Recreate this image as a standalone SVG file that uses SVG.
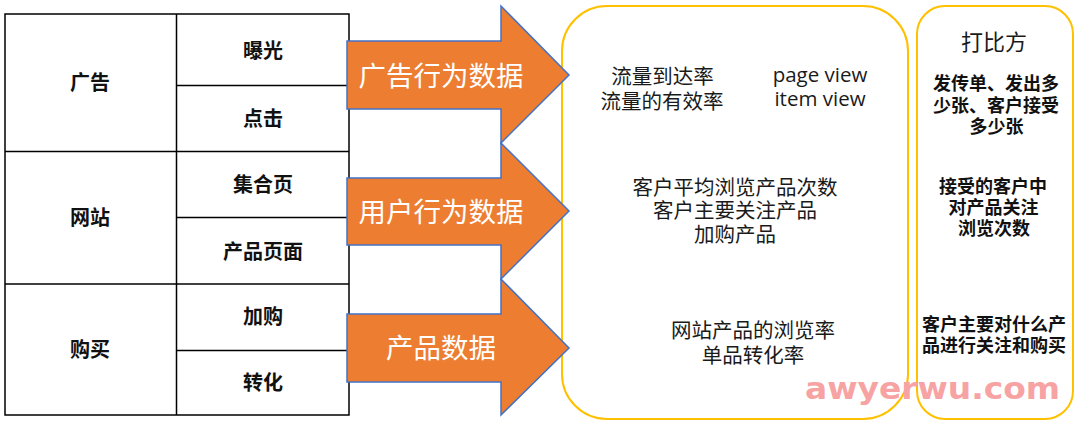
<svg xmlns="http://www.w3.org/2000/svg" width="1080" height="421" viewBox="0 0 1080 421">
<style>
.cell{fill:none;stroke:#000;stroke-width:1.5}
.tb{font-family:"Noto Sans CJK SC","Noto Sans",sans-serif;font-weight:700;font-size:20px;fill:#111;text-anchor:middle}
.arr{fill:#ED7D31;stroke:#4472C4;stroke-width:1.5;stroke-linejoin:miter}
.at{font-family:"Noto Sans CJK SC","Noto Sans",sans-serif;font-size:27.5px;fill:#fff;text-anchor:middle}
.box{fill:none;stroke:#FFC000;stroke-width:2}
.bt{font-family:"Open Sans","Noto Sans CJK SC",sans-serif;font-size:20.5px;fill:#1a1a1a;text-anchor:middle}
.bb{font-family:"Noto Sans CJK SC","Noto Sans",sans-serif;font-weight:700;font-size:18px;fill:#111;text-anchor:middle}
.wm{font-family:"DejaVu Sans",sans-serif;font-weight:700;font-size:30px;fill:#F7A3A3}
</style>
<rect width="1080" height="421" fill="#fff"/>
<g id="table">
<rect class="cell" x="5" y="14" width="344" height="401"/>
<line class="cell" x1="176.5" y1="14" x2="176.5" y2="415"/>
<line class="cell" x1="5" y1="151.5" x2="349" y2="151.5"/>
<line class="cell" x1="5" y1="284" x2="349" y2="284"/>
<line class="cell" x1="176.5" y1="85.5" x2="349" y2="85.5"/>
<line class="cell" x1="176.5" y1="217.5" x2="349" y2="217.5"/>
<line class="cell" x1="176.5" y1="350.5" x2="349" y2="350.5"/>
<text class="tb" x="90" y="89.5">广告</text>
<text class="tb" x="263" y="57.5">曝光</text>
<text class="tb" x="263" y="126">点击</text>
<text class="tb" x="263" y="191.5">集合页</text>
<text class="tb" x="90" y="225">网站</text>
<text class="tb" x="263" y="258.5">产品页面</text>
<text class="tb" x="263" y="323.5">加购</text>
<text class="tb" x="90" y="356.5">购买</text>
<text class="tb" x="263" y="389.5">转化</text>
</g>
<g id="box-metrics">
<rect class="box" x="562" y="6" width="346" height="413" rx="45"/>
<text class="bt"><tspan x="662.5" y="83.5">流量到达率</tspan><tspan x="662" y="108.5">流量的有效率</tspan></text>
<text class="bt"><tspan x="820" y="82">page view</tspan><tspan x="820" y="106">item view</tspan></text>
<text class="bt"><tspan x="735" y="194.5">客户平均浏览产品次数</tspan><tspan x="735" y="218">客户主要关注产品</tspan><tspan x="735" y="241.5">加购产品</tspan></text>
<text class="bt"><tspan x="753" y="338">网站产品的浏览率</tspan><tspan x="753" y="363">单品转化率</tspan></text>
</g>
<g id="box-analogy">
<rect class="box" x="917" y="6" width="156" height="413" rx="28"/>
<text class="bt" x="994" y="49.5" style="font-size:22px">打比方</text>
<text class="bb"><tspan x="996" y="89.5">发传单、发出多</tspan><tspan x="996" y="111.5">少张、客户接受</tspan><tspan x="996.5" y="133">多少张</tspan></text>
<text class="bb"><tspan x="993" y="193">接受的客户中</tspan><tspan x="993.5" y="214">对产品关注</tspan><tspan x="994" y="234.5">浏览次数</tspan></text>
<text class="bb"><tspan x="994" y="330.5">客户主要对什么产</tspan><tspan x="994" y="351.5">品进行关注和购买</tspan></text>
</g>
<g id="connectors">
<g id="arrow-ad">
<path class="arr" d="M347,41 L501,41 L501,6 L569,75 L501,143 L501,109 L347,109 Z"/>
<text class="at" x="441" y="86">广告行为数据</text>
</g>
<g id="arrow-user">
<path class="arr" d="M347,178 L501,178 L501,143 L569,211 L501,279 L501,245 L347,245 Z"/>
<text class="at" x="441" y="221.5">用户行为数据</text>
</g>
<g id="arrow-product">
<path class="arr" d="M347,314 L501,314 L501,279 L569,348 L501,415 L501,382 L347,382 Z"/>
<text class="at" x="441" y="358">产品数据</text>
</g>
</g>
<text class="wm" x="805" y="399" textLength="255" lengthAdjust="spacingAndGlyphs">awyerwu.com</text>
</svg>
